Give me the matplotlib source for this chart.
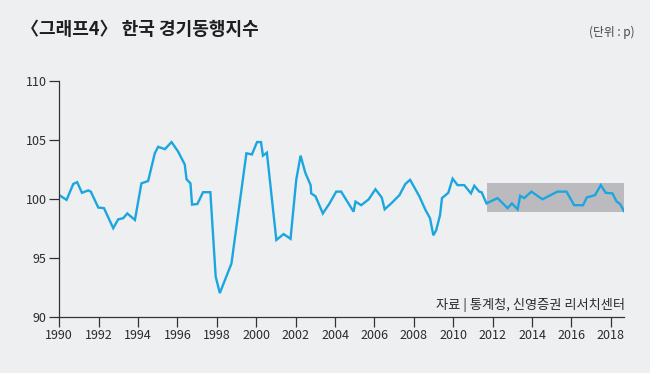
import matplotlib
matplotlib.use("Agg")
import matplotlib.pyplot as plt
from matplotlib.patches import Rectangle

plt.rcParams['font.family'] = ['Noto Sans CJK KR', 'DejaVu Sans']

# 한국 경기동행지수 (decimal year, index)
years = [1990.0, 1990.37, 1990.71, 1990.91, 1991.15, 1991.47, 1991.6, 1991.98, 1992.27,
         1992.74, 1992.99, 1993.25, 1993.45, 1993.84, 1994.17, 1994.51, 1994.85, 1995.02,
         1995.36, 1995.7, 1996.03, 1996.37, 1996.46, 1996.66, 1996.74, 1997.01, 1997.3,
         1997.67, 1997.94, 1998.15, 1998.74, 1999.5, 1999.78, 2000.04, 2000.24, 2000.34,
         2000.54, 2001.02, 2001.39, 2001.74, 2002.03, 2002.25, 2002.49, 2002.76, 2002.79,
         2003.01, 2003.38, 2003.72, 2004.06, 2004.31, 2004.94, 2005.04, 2005.33, 2005.71,
         2006.05, 2006.37, 2006.52, 2006.85, 2007.27, 2007.57, 2007.81, 2008.28, 2008.59,
         2008.82, 2008.99, 2009.13, 2009.33, 2009.43, 2009.75, 2009.97, 2010.22, 2010.56,
         2010.9, 2011.07, 2011.32, 2011.44, 2011.69, 2012.25, 2012.76, 2012.98, 2013.27,
         2013.4, 2013.6, 2013.97, 2014.53, 2015.29, 2015.75, 2016.14, 2016.59, 2016.78,
         2017.2, 2017.49, 2017.74, 2018.08, 2018.3, 2018.47, 2018.67]
index = [100.3, 99.9, 101.25, 101.4, 100.5, 100.7, 100.6, 99.25, 99.2,
         97.5, 98.25, 98.35, 98.75, 98.2, 101.3, 101.5, 103.85, 104.4,
         104.2, 104.8, 104.0, 102.9, 101.65, 101.3, 99.5, 99.55, 100.55,
         100.55, 93.4, 92.0, 94.5, 103.85, 103.75, 104.8, 104.8, 103.65,
         103.9, 96.5, 97.0, 96.6, 101.6, 103.65, 102.2, 101.15, 100.45,
         100.2, 98.75, 99.6, 100.6, 100.6, 98.9, 99.75, 99.45, 99.95,
         100.8, 100.1, 99.1, 99.6, 100.3, 101.25, 101.6, 100.2, 99.05,
         98.35, 96.9, 97.3, 98.6, 100.05, 100.5, 101.7, 101.15, 101.15,
         100.45, 101.1, 100.6, 100.55, 99.6, 100.05, 99.2, 99.6, 99.1,
         100.25, 100.05, 100.6, 99.95, 100.6, 100.6, 99.45, 99.45, 100.1,
         100.3, 101.15, 100.5, 100.45, 99.75, 99.55, 98.95]

# 회색 박스 구간
box_x = [2011.74, 2018.67]
box_y = [98.9, 101.3]

xticks = list(range(1990, 2019, 2))
yticks = [90, 95, 100, 105, 110]

bg = '#eeeff1'
line_color = '#1ba6e0'
text_color = '#2b2b2b'

fig = plt.figure(figsize=(6.5, 3.73), dpi=100, facecolor=bg)
ax = fig.add_axes([0.0912, 0.151, 0.8688, 0.6326])
ax.set_facecolor(bg)

ax.add_patch(Rectangle((box_x[0], box_y[0]), box_x[1] - box_x[0], box_y[1] - box_y[0],
                       facecolor='#bbbbbf', edgecolor='none', zorder=1))
ax.plot(years, index, color=line_color, lw=1.7, zorder=2, solid_joinstyle='miter')

ax.set_xlim(1990, 2018.67)
ax.set_ylim(90, 110)
ax.set_xticks(xticks)
ax.set_yticks(yticks)
ax.spines['top'].set_visible(False)
ax.spines['right'].set_visible(False)
for s in ['left', 'bottom']:
    ax.spines[s].set_color('#333333')
    ax.spines[s].set_linewidth(0.9)
ax.tick_params(axis='both', length=7, width=0.9, color='#333333',
               labelsize=9, labelcolor=text_color, pad=2)

fig.text(0.033, 0.922, '〈그래프4〉 한국 경기동행지수', fontsize=13, fontweight='bold',
         color='#1e1e1e', va='center', ha='left')
fig.text(0.977, 0.914, '(단위 : p)', fontsize=8.5, color='#444444', va='center', ha='right')
fig.text(0.962, 0.182, '자료 | 통계청, 신영증권 리서치센터', fontsize=9.5, color=text_color,
         va='center', ha='right')

fig.savefig('out.png', dpi=100, facecolor=bg)
